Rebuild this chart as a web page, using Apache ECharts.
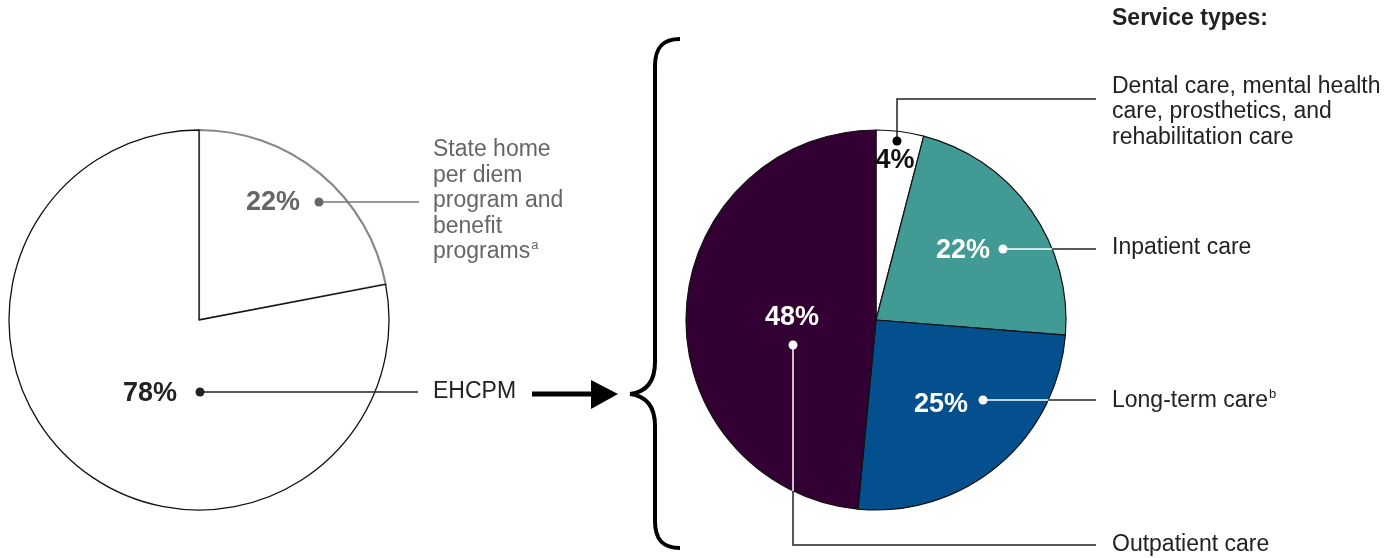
<!DOCTYPE html>
<html>
<head>
<meta charset="utf-8">
<script src="https://cdn.jsdelivr.net/npm/echarts@6/dist/echarts.min.js"></script>
<style>
  html, body { margin: 0; padding: 0; background: #ffffff; }
  #chart { width: 1396px; height: 558px; }
</style>
</head>
<body>
<div id="chart"></div>
<script>
// ---- data ----
const leftCategories = ['State home per diem program and benefit programs', 'EHCPM'];
const leftValues = [22, 78];
const rightCategories = ['Dental care, mental health care, prosthetics, and rehabilitation care', 'Inpatient care', 'Long-term care', 'Outpatient care'];
const rightValues = [4, 22, 25, 48];
const rightTitle = 'Service types:';

// ---- styling ----
const FONT = '"Liberation Sans", Arial, Helvetica, sans-serif';
const rightColors = ['#ffffff', '#419A94', '#044F8E', '#330033'];
const DARK = '#222222';
const GRAY = '#666666';
const LEFT_C = [199, 320], RIGHT_C = [876, 320], R = 190;

const chart = echarts.init(document.getElementById('chart'), null, { renderer: 'canvas' });

function pct(v) { return v + '%'; }

function edgeX(y) { const dy = y - RIGHT_C[1]; return RIGHT_C[0] + Math.sqrt(R * R - dy * dy); }
function edgeY(x) { const dx = x - RIGHT_C[0]; return RIGHT_C[1] + Math.sqrt(R * R - dx * dx); }

const labelStyle = { fontFamily: FONT, fontSize: 23, fill: DARK, lineHeight: 25.5 };
const pctStyle = { fontFamily: FONT, fontSize: 27, fontWeight: 'bold' };

const graphics = [];
function text(x, y, t, style) {
  graphics.push({ type: 'text', x: x, y: y, silent: true, z: 10,
    style: Object.assign({ text: t, align: 'left', verticalAlign: 'middle' }, style) });
}
function dot(x, y, color) {
  graphics.push({ type: 'circle', silent: true, z: 10, shape: { cx: x, cy: y, r: 4.5 }, style: { fill: color } });
}
function line(points, color, w) {
  graphics.push({ type: 'polyline', silent: true, z: 9, shape: { points: points }, style: { stroke: color, lineWidth: w || 1.5, fill: null } });
}
function bez(x1, y1, c1x, c1y, c2x, c2y, x2, y2) {
  graphics.push({ type: 'bezierCurve', silent: true, shape: { x1: x1, y1: y1, cpx1: c1x, cpy1: c1y, cpx2: c2x, cpy2: c2y, x2: x2, y2: y2 },
    style: { stroke: '#000', lineWidth: 4, fill: null } });
}

// ---- left pie annotations ----
line([[319, 202], [419, 202]], '#777777');
dot(319, 202, GRAY);
text(273, 203, pct(leftValues[0]), Object.assign({ fill: GRAY, align: 'center' }, pctStyle));
text(433, 201, 'State home\nper diem\nprogram and\nbenefit\nprograms{sup|a}', Object.assign({}, labelStyle, {
  fill: GRAY,
  rich: { sup: { fontFamily: FONT, fontSize: 13, fill: GRAY, verticalAlign: 'top', padding: [0, 0, 12, 1] } }
}));

line([[200, 392], [418, 392]], DARK);
dot(200, 392, DARK);
text(150, 394, pct(leftValues[1]), Object.assign({ fill: DARK, align: 'center' }, pctStyle));
text(433, 392, 'EHCPM', labelStyle);

// ---- arrow ----
graphics.push({ type: 'line', silent: true, shape: { x1: 532, y1: 394, x2: 596, y2: 394 }, style: { stroke: '#000', lineWidth: 5 } });
graphics.push({ type: 'polygon', silent: true, shape: { points: [[591, 380], [618, 394], [591, 409]] }, style: { fill: '#000' } });

// ---- brace ----
bez(680, 39, 663, 39, 655, 47, 655, 66);
graphics.push({ type: 'line', silent: true, shape: { x1: 655, y1: 66, x2: 655, y2: 362 }, style: { stroke: '#000', lineWidth: 4 } });
bez(655, 362, 655, 382, 646, 392, 630, 394);
bez(630, 394, 646, 396, 655, 406, 655, 426);
graphics.push({ type: 'line', silent: true, shape: { x1: 655, y1: 426, x2: 655, y2: 521 }, style: { stroke: '#000', lineWidth: 4 } });
bez(655, 521, 655, 540, 663, 548, 680, 548);

// ---- right pie annotations ----
text(1112, 19, rightTitle, { fontFamily: FONT, fontSize: 23, fontWeight: 'bold', fill: DARK });

// 4%
line([[897, 141], [897, 99], [1096, 99]], DARK);
dot(897, 141, '#000');
text(895, 161, pct(rightValues[0]), Object.assign({ fill: '#111', align: 'center' }, pctStyle));
text(1112, 112, 'Dental care, mental health\ncare, prosthetics, and\nrehabilitation care', labelStyle);

// 22%
line([[edgeX(249), 249], [1096, 249]], DARK);
line([[1003, 249], [edgeX(249), 249]], '#ffffff');
dot(1003, 249, '#ffffff');
text(963, 251, pct(rightValues[1]), Object.assign({ fill: '#ffffff', align: 'center' }, pctStyle));
text(1112, 248, 'Inpatient care', labelStyle);

// 25%
line([[edgeX(400), 400], [1096, 400]], DARK);
line([[983, 400], [edgeX(400), 400]], '#ffffff');
dot(983, 400, '#ffffff');
text(941, 405, pct(rightValues[2]), Object.assign({ fill: '#ffffff', align: 'center' }, pctStyle));
text(1112, 401, 'Long-term care{sup|b}', Object.assign({}, labelStyle, {
  rich: { sup: { fontFamily: FONT, fontSize: 13, fill: DARK, verticalAlign: 'top', padding: [0, 0, 12, 1] } }
}));

// 48%
line([[793, edgeY(793)], [793, 545], [1096, 545]], DARK);
line([[793, 345], [793, edgeY(793)]], '#ffffff');
dot(793, 345, '#ffffff');
text(792, 318, pct(rightValues[3]), Object.assign({ fill: '#ffffff', align: 'center' }, pctStyle));
text(1112, 545, 'Outpatient care', labelStyle);

const option = {
  backgroundColor: '#ffffff',
  animation: false,
  series: [
    {
      type: 'pie',
      center: LEFT_C,
      radius: [0, R],
      startAngle: 90,
      clockwise: true,
      silent: true,
      label: { show: false },
      labelLine: { show: false },
      emphasis: { disabled: true },
      data: leftValues.map((v, i) => ({
        name: leftCategories[i],
        value: v,
        itemStyle: i === 0
          ? { color: '#ffffff', borderColor: '#888888', borderWidth: 2.2 }
          : { color: '#ffffff', borderColor: '#111111', borderWidth: 1.3 }
      }))
    },
    {
      type: 'pie',
      center: RIGHT_C,
      radius: [0, R],
      startAngle: 90,
      clockwise: true,
      silent: true,
      label: { show: false },
      labelLine: { show: false },
      emphasis: { disabled: true },
      data: rightValues.map((v, i) => ({
        name: rightCategories[i],
        value: v,
        itemStyle: { color: rightColors[i], borderColor: '#111111', borderWidth: 1.2 }
      }))
    }
  ],
  graphic: graphics
};
chart.setOption(option);
</script>
</body>
</html>
